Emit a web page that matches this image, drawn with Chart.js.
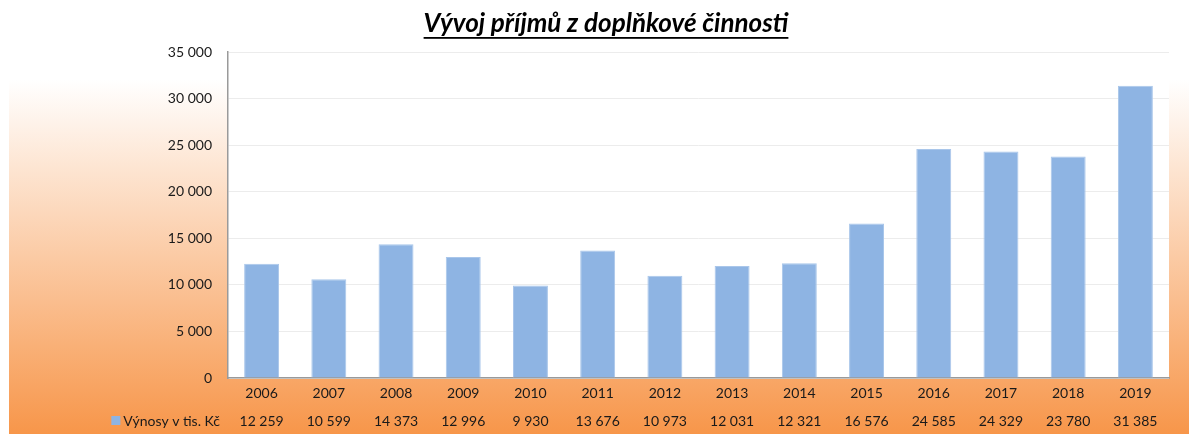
<!DOCTYPE html>
<html>
<head>
<meta charset="utf-8">
<script src="https://cdn.jsdelivr.net/npm/chart.js@4"></script>
<style>
  html, body { margin: 0; padding: 0; background: #fff; }
  #wrap { width: 1189px; height: 434px; }
</style>
</head>
<body>
<div id="wrap"><canvas id="prijmyChart" width="1189" height="434"></canvas></div>
<script>
const years = ['2006', '2007', '2008', '2009', '2010', '2011', '2012', '2013', '2014', '2015', '2016', '2017', '2018', '2019'];
const vynosy = [12259, 10599, 14373, 12996, 9930, 13676, 10973, 12031, 12321, 16576, 24585, 24329, 23780, 31385];
const seriesLabel = 'Výnosy v tis. Kč';
const chartTitle = 'Vývoj příjmů z doplňkové činnosti';

const FONT = 'Lato, "Open Sans", sans-serif';

function formatNum(v) {
    return String(v).replace(/\B(?=(\d{3})+(?!\d))/g, ' ');
}

// background gradient + white plot area
const backgroundPlugin = {
    id: 'bg',
    beforeDraw(chart) {
        const ctx = chart.ctx;
        const ca = chart.chartArea;
        ctx.save();
        const g = ctx.createLinearGradient(0, 80, 0, chart.height);
        g.addColorStop(0, '#ffffff');
        g.addColorStop(1, '#f7964a');
        ctx.fillStyle = g;
        ctx.fillRect(9, 0, chart.width - 9, chart.height);
        ctx.fillStyle = '#ffffff';
        ctx.fillRect(ca.left, ca.top - 2, ca.right - ca.left, ca.bottom - ca.top + 2);
        ctx.restore();
    }
};

// title with underline and data table row
const tablePlugin = {
    id: 'table',
    afterDraw(chart) {
        const ctx = chart.ctx;
        const xScale = chart.scales.x;
        ctx.save();

        // title
        ctx.font = 'italic bold 26px ' + FONT;
        ctx.fillStyle = '#000';
        ctx.textAlign = 'center';
        ctx.textBaseline = 'middle';
        const tx = 606, ty = 24;
        ctx.fillText(chartTitle, tx, ty);
        const w = ctx.measureText(chartTitle).width;
        ctx.fillRect(tx - w / 2, ty + 13, w, 1.8);

        // values row
        ctx.font = '14px ' + FONT;
        ctx.fillStyle = '#1a1a1a';
        const rowY = 421;
        vynosy.forEach((v, i) => {
            ctx.fillText(formatNum(v), xScale.getPixelForValue(i), rowY);
        });

        // legend key + label
        ctx.textAlign = 'right';
        ctx.fillText(seriesLabel, 220, rowY);
        const lw = ctx.measureText(seriesLabel).width;
        ctx.fillStyle = '#8eb4e3';
        ctx.fillRect(220 - lw - 12, rowY - 5, 9, 9);
        ctx.restore();
    }
};

const config = {
    type: 'bar',
    data: {
        labels: years,
        datasets: [{
            label: seriesLabel,
            data: vynosy,
            backgroundColor: '#8eb4e3',
            borderColor: '#a9c6ea',
            borderWidth: 1,
            barPercentage: 0.52,
            categoryPercentage: 1.0
        }]
    },
    options: {
        responsive: false,
        animation: false,
        layout: {
            padding: { left: 0, right: 20, top: 52, bottom: 0 }
        },
        plugins: {
            legend: { display: false },
            title: { display: false },
            tooltip: { enabled: false }
        },
        scales: {
            x: {
                grid: { display: false, drawTicks: false },
                border: { color: '#9a9a9a', width: 1.5 },
                ticks: {
                    color: '#1a1a1a',
                    font: { family: FONT, size: 14 },
                    padding: 7,
                    maxRotation: 0
                },
                afterFit(scale) { scale.height = 56; }
            },
            y: {
                min: 0,
                max: 35000,
                grid: { color: '#ececec', lineWidth: 1, drawTicks: false },
                border: { color: '#9a9a9a', width: 1.5 },
                ticks: {
                    stepSize: 5000,
                    color: '#1a1a1a',
                    font: { family: FONT, size: 14 },
                    padding: 16,
                    callback: v => formatNum(v)
                },
                afterFit(scale) { scale.width = 228; }
            }
        }
    },
    plugins: [backgroundPlugin, tablePlugin]
};

new Chart(document.getElementById('prijmyChart'), config);
</script>
</body>
</html>
